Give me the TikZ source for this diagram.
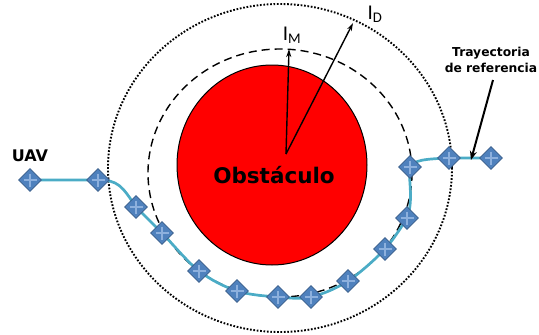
\documentclass[tikz,border=0pt]{standalone}
\usepackage{fontspec}
\setmainfont{DejaVu Sans}
\newfontfamily\calib{Carlito}
\usetikzlibrary{shapes.geometric,arrows.meta}
\definecolor{wpfill}{HTML}{4F81BD}
\definecolor{wpdraw}{HTML}{385D8A}
\definecolor{wpcross}{HTML}{8DB0DD}
\definecolor{pathblue}{HTML}{4BACC6}
\definecolor{obsred}{HTML}{FF0000}
\begin{document}
\begin{tikzpicture}[x=1pt,y=-1pt,
  wp/.style={diamond, minimum size=23pt, inner sep=0pt, fill=wpfill, draw=wpdraw, line width=0.8pt,
    path picture={
      \draw[wpcross,line width=1.3pt]
        ([yshift=6.5pt]path picture bounding box.center) -- ([yshift=-6.5pt]path picture bounding box.center)
        ([xshift=-6.5pt]path picture bounding box.center) -- ([xshift=6.5pt]path picture bounding box.center);}},
  radius/.style={line width=1.4pt, -{Stealth[length=8pt,width=5pt]}},
  lbl/.style={font=\bfseries, inner sep=0pt}]
\useasboundingbox (0,0) rectangle (539,335);
% circles
\draw[line width=1.9pt, dash pattern=on 1.7pt off 1.7pt] (280,168) ellipse [x radius=172, y radius=164];
\draw[line width=1.4pt, dash pattern=on 8pt off 5pt] (280,173) ellipse [x radius=132, y radius=124];
\node[ellipse, fill=obsred, draw=black, line width=1pt, minimum width=190pt, minimum height=200pt] (obs) at (272,165) {};
\node[lbl, font=\bfseries\fontsize{21.5}{24}\selectfont] (obstxt) at (274,175) {Obstáculo};
% radii
\coordinate (src) at (286,154);
\coordinate (tm) at (289,49);
\coordinate (td) at (353,23);
\draw[radius] (src) -- (tm);
\draw[radius] (src) -- (td);
\node[inner sep=0pt, font=\calib\fontsize{21}{22}\selectfont] (lm) at (292,35) {I\textsubscript{M}};
\node[inner sep=0pt, font=\calib\fontsize{21}{22}\selectfont] (ld) at (375,14) {I\textsubscript{D}};
% path
\coordinate (p1) at (30,180);
\coordinate (p2) at (98,180);
\coordinate (p3) at (136,207);
\coordinate (p4) at (162,233);
\coordinate (p5) at (199,271);
\coordinate (p6) at (237,291);
\coordinate (p7) at (278,297);
\coordinate (p8) at (311,297);
\coordinate (p9) at (348,281);
\coordinate (p10) at (385,249);
\coordinate (p11) at (407,218);
\coordinate (p12) at (410,167);
\coordinate (p13) at (449,158);
\coordinate (p14) at (491,158);
\draw[pathblue, line width=2.7pt, line join=round]
  (p1) -- (p2) .. controls (118,180) and (122,186) .. (p3)
  plot[smooth, tension=0.55] coordinates {(p3) (p4) (p5) (p6) (p7) (p8) (p9) (p10) (p11)}
  .. controls (414,200) and (408,180) .. (p12)
  .. controls (414,160) and (425,159) .. (p13) -- (p14);
\foreach \i in {1,...,14} {\node[wp] (w\i) at (p\i) {};}
% labels
\node[lbl, font=\bfseries\fontsize{16}{18}\selectfont] (uav) at (30,156) {UAV};
\node[lbl, align=center, font=\bfseries\fontsize{12.3}{15.5}\selectfont] (tray) at (491,60) {Trayectoria\\de referencia};
\coordinate (tt) at (471,160);
\draw[line width=2pt, -{Stealth[length=9pt,width=7pt]}] (493,80) -- (tt);
\end{tikzpicture}
\end{document}
